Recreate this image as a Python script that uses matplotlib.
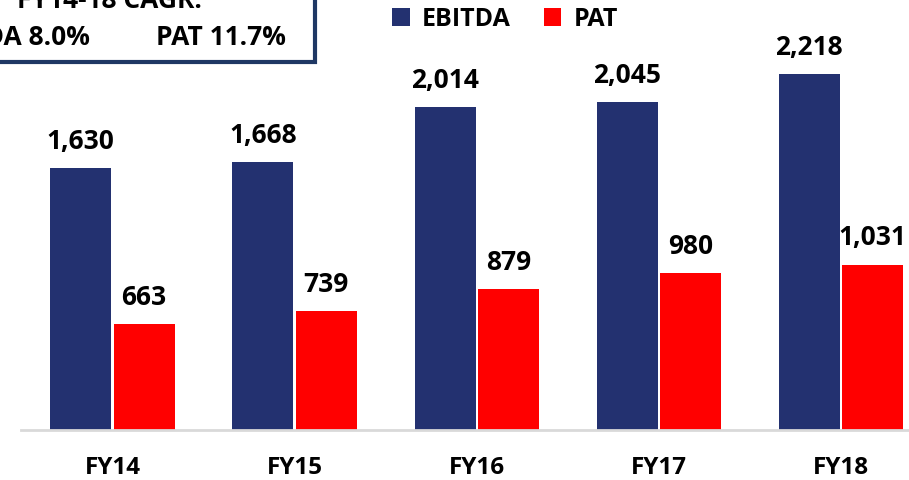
import matplotlib.pyplot as plt
import matplotlib.patches as patches
import numpy as np

years = ['FY14', 'FY15', 'FY16', 'FY17', 'FY18']
ebitda = [1630, 1668, 2014, 2045, 2218]
pat = [663, 739, 879, 980, 1031]
cagr_title = 'FY14-18 CAGR:'
cagr_ebitda = 'EBITDA 8.0%'
cagr_pat = 'PAT 11.7%'

navy = '#233170'
red = '#ff0000'

plt.rcParams['font.family'] = ['Open Sans', 'DejaVu Sans']
fs = 19

W, H = 909, 481
fig = plt.figure(figsize=(W / 100, H / 100), dpi=100)
ax = fig.add_axes([21 / W, 50 / H, 1 - 21 / W, 1 - 50 / H])

x = np.arange(len(years))
w = 0.335
ax.bar(x - w / 2 - 0.006, ebitda, w, color=navy, label='EBITDA')
ax.bar(x + w / 2 + 0.006, pat, w, color=red, label='PAT')

for i in range(len(years)):
    ax.text(x[i] - w / 2 - 0.006, ebitda[i] + 125, f'{ebitda[i]:,}', ha='center', va='baseline',
            fontsize=fs, fontweight='bold')
    ax.text(x[i] + w / 2 + 0.006, pat[i] + 125, f'{pat[i]:,}', ha='center', va='baseline',
            fontsize=fs, fontweight='bold')

ax.set_xlim(-0.502, 4.374)
ax.set_ylim(0, 2685)
ax.set_xticks(x)
ax.set_xticklabels(years, fontsize=17.5, fontweight='bold')
for lbl in ax.get_xticklabels():
    lbl.set_va('baseline')
ax.tick_params(axis='x', length=0, pad=31)
ax.set_yticks([])
for s in ['top', 'right', 'left']:
    ax.spines[s].set_visible(False)
ax.spines['bottom'].set_color('#d9d9d9')
ax.spines['bottom'].set_linewidth(2)

leg = fig.legend(loc='center', bbox_to_anchor=(505 / W, 1 - 20 / H), ncol=2, frameon=False,
                 prop={'size': 18, 'weight': 'bold'}, handlelength=0.7, handleheight=0.7,
                 handletextpad=0.5, columnspacing=1.3)

# cropped CAGR box at top left
box = patches.Rectangle((-0.1, 1 - 63 / H), 315 / W + 0.1, 0.2, transform=fig.transFigure,
                        fill=False, edgecolor='#1f3864', linewidth=3, clip_on=False)
fig.patches.append(box)
fig.text(202 / W, 1 - 8 / H, cagr_title, ha='right', va='baseline', fontsize=fs, fontweight='bold')
fig.text(90 / W, 1 - 45 / H, cagr_ebitda, ha='right', va='baseline', fontsize=fs, fontweight='bold')
fig.text(286 / W, 1 - 45 / H, cagr_pat, ha='right', va='baseline', fontsize=fs, fontweight='bold')

fig.savefig('out.png', dpi=100)
